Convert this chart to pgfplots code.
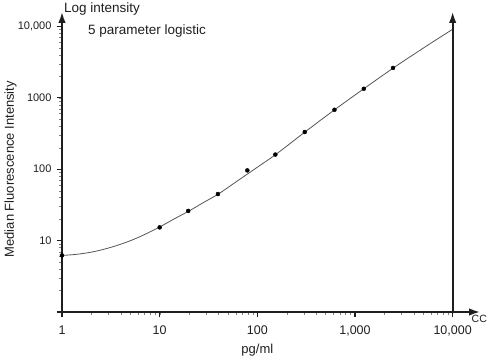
\documentclass[border=0pt]{standalone}
\usepackage{pgfplots}
\pgfplotsset{compat=1.18}
\usepackage{fontspec}
\setmainfont{Liberation Sans}
\usetikzlibrary{arrows.meta}
\definecolor{axc}{HTML}{1E1E1E}
\definecolor{curvec}{HTML}{555555}
\begin{document}
\begin{tikzpicture}
\begin{axis}[
  name=ax,
  scale only axis,
  width=418pt, height=300pt,
  xmode=log, ymode=log,
  xmin=1, xmax=19055,
  ymin=1, ymax=15849,
  axis lines=left,
  axis line style={line width=1.7pt, color=axc, -{Latex[length=11pt,width=7.5pt]}},
  tick align=outside,
  major tick length=5.5pt,
  major tick style={line width=1.2pt, color=axc},
  minor tick num=0,
  xtick={1,10,100,1000,10000},
  xticklabels={1,10,100,{1,000},{10,000}},
  ytick={1,10,100,1000,10000},
  yticklabels={,10,100,1000,{10,000}},
  x tick label style={font=\fontsize{12.5}{14}\selectfont, color=axc, yshift=-5pt},
  y tick label style={font=\fontsize{11}{13}\selectfont, color=axc, xshift=-1.5pt},
  /pgf/number format/assume math mode=true,
  clip=false,
]
\addplot[color=curvec, line width=0.8pt, smooth, tension=0.6, no marks] coordinates {
(1,6.19) (1.334,6.37) (1.778,6.70) (2.371,7.24) (3.162,8.04) (4.217,9.12)
(5.623,10.62) (7.499,12.71) (10,15.49) (14.13,20.14) (19.95,25.94)
(28.18,34.20) (39.81,44.77) (63.10,69.02) (100,106.4) (158.5,164.8)
(316.2,341.2) (631.0,691.8) (1259,1365) (2512,2649) (3981,4027)
(6310,6081) (10000,9078)
};
\addplot[only marks, mark=*, mark size=2pt, color=black] coordinates {
(1,6.2) (10,15.3) (19.6,26) (39.5,44.8) (79,96) (153,160) (306,331)
(616,677) (1230,1333) (2450,2610)
};
\draw[line width=1.7pt, color=axc, -{Latex[length=11pt,width=7.5pt]}]
  (axis cs:10000,1) -- (axis cs:10000,15849);
\node[rotate=90, anchor=base, inner sep=0pt, font=\fontsize{13}{15}\selectfont, color=axc]
  at ([xshift=-48pt]axis cs:1,100) {Median Fluorescence Intensity};
\node[anchor=base, inner sep=0pt, font=\fontsize{13}{15}\selectfont, color=axc]
  at ([yshift=-41pt]axis cs:100,1) {pg/ml};
\end{axis}
\node[anchor=base west, inner sep=0pt, font=\fontsize{13.5}{15}\selectfont, color=axc]
  at ([xshift=2pt,yshift=-1pt]ax.north west) {Log intensity};
\node[anchor=base west, inner sep=0pt, font=\fontsize{13.5}{15}\selectfont, color=axc]
  at ([xshift=26pt,yshift=-22.7pt]ax.north west) {5 parameter logistic};
\node[anchor=base west, inner sep=0pt, font=\fontsize{10.5}{12}\selectfont, color=axc]
  at ([xshift=-8.5pt,yshift=-10.5pt]ax.south east) {CC};
\pgfresetboundingbox
\useasboundingbox ([xshift=-62pt,yshift=-48pt]ax.south west) rectangle ([xshift=8pt,yshift=12pt]ax.north east);
\end{tikzpicture}
\end{document}
